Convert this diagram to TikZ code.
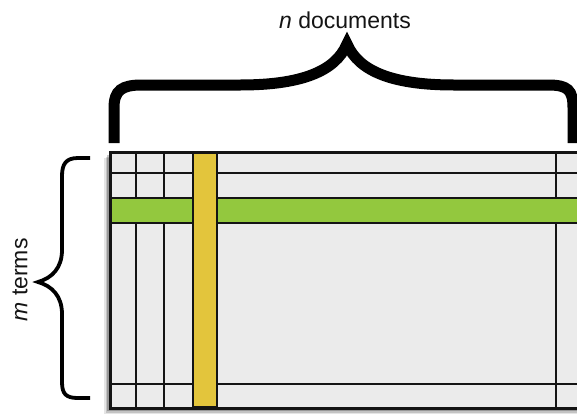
\documentclass[tikz,border=0pt]{standalone}
\usepackage{fontspec}
\setmainfont{Liberation Sans}
\definecolor{cellgray}{HTML}{EBEBEB}
\definecolor{bargreen}{HTML}{93C83E}
\definecolor{baryellow}{HTML}{E3C53C}
\definecolor{ink}{HTML}{141414}
\tikzset{
  gridline/.style={draw=ink, line width=2.2pt},
  bigbrace/.style={draw=black, line width=11pt, line join=miter, line cap=butt},
  smallbrace/.style={draw=black, line width=3.8pt, line join=miter, line cap=butt},
  label/.style={font=\fontsize{23}{26}\selectfont, text=ink, inner sep=0pt},
}
\begin{document}
\begin{tikzpicture}[x=1pt,y=-1pt]
\useasboundingbox (0,0) rectangle (577,413);
\clip (0,0) rectangle (577,413);
% shadow
\foreach \o/\op in {6/0.10,4.5/0.15,3/0.22,1.5/0.3}{
  \fill[black, opacity=\op] (110-\o,152+\o) rectangle (590,408+\o);
}
% matrix background
\fill[cellgray] (110,152) rectangle (590,408);
% grid lines
\draw[gridline] (136,152) -- (136,408);
\draw[gridline] (164,152) -- (164,408);
\draw[gridline] (556,152) -- (556,408);
\draw[gridline] (110,173) -- (590,173);
\draw[gridline] (110,384) -- (590,384);
% green row
\draw[gridline, fill=bargreen] (110,198) rectangle (590,223);
% yellow column
\draw[gridline, fill=baryellow] (193,152) rectangle (217,407);
% outer border
\draw[draw=ink, line width=3pt] (110,152) rectangle (590,408);
% top brace
\draw[bigbrace] (114,143) -- (114,108)
  .. controls (114,90) and (122,85) .. (142,85) -- (240,85)
  .. controls (300,85) and (335,72) .. (347,44)
  .. controls (359,72) and (394,85) .. (454,85) -- (548,85)
  .. controls (568,85) and (573,90) .. (573,108) -- (573,143);
% left brace
\draw[smallbrace] (90,158) -- (78,158)
  .. controls (66,158) and (62,164) .. (62,176) -- (62,250)
  .. controls (62,268) and (52,278) .. (38,282)
  .. controls (52,286) and (62,296) .. (62,314) -- (62,382)
  .. controls (62,394) and (66,398) .. (78,398) -- (90,398);
% labels
\node[label] (ndocs) at (345,20) {\textit{n} documents};
\node[label, rotate=90] (mterms) at (20,280) {\textit{m} terms};
\end{tikzpicture}
\end{document}
